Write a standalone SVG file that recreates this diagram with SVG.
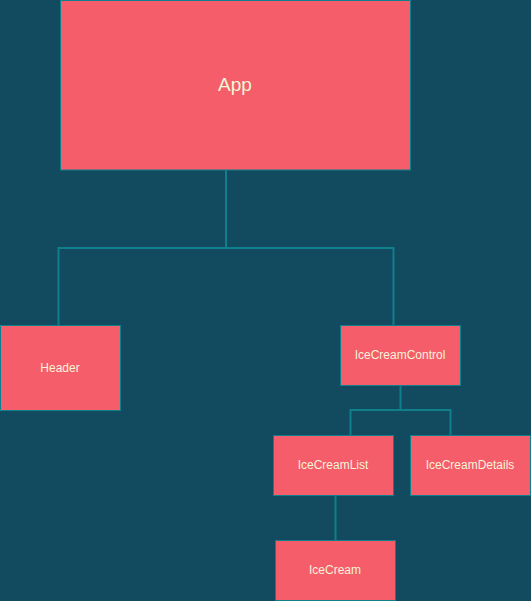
<svg xmlns="http://www.w3.org/2000/svg" width="531" height="601" viewBox="0 0 531 601">
<style>
.box{fill:#F45D69;stroke:#0E7F8B;stroke-width:1}
.lbl{font-family:"Liberation Sans",Arial,sans-serif;font-size:12px;fill:#F6F3DA;text-anchor:middle}
.big{font-size:19px;fill:#EEF9D8}
.conn{fill:none;stroke:#0E7F8B;stroke-width:2}
</style>
<rect width="531" height="601" fill="#124A5F"/>
<g id="connectors">
<path class="conn" d="M226,170 V248 M58.5,325 V248 H393.5 V325"/>
<path class="conn" d="M400.5,385 V410 M350.5,435 V410 H450.5 V435"/>
<path class="conn" d="M335.5,495 V540"/>
</g>
<g id="app"><rect class="box" x="60.5" y="0.5" width="350" height="169.5"/><text class="lbl big" x="235" y="91">App</text></g>
<g id="header"><rect class="box" x="0.5" y="325.5" width="120" height="85"/><text class="lbl" x="60" y="372">Header</text></g>
<g id="icecreamcontrol"><rect class="box" x="340.5" y="325.5" width="120" height="60"/><text class="lbl" x="400" y="359">IceCreamControl</text></g>
<g id="icecreamlist"><rect class="box" x="273.5" y="435.5" width="120" height="60"/><text class="lbl" x="333" y="469">IceCreamList</text></g>
<g id="icecreamdetails"><rect class="box" x="410.5" y="435.5" width="120" height="60"/><text class="lbl" x="470" y="469">IceCreamDetails</text></g>
<g id="icecream"><rect class="box" x="275.5" y="540.5" width="120" height="60"/><text class="lbl" x="335" y="574">IceCream</text></g>
</svg>
